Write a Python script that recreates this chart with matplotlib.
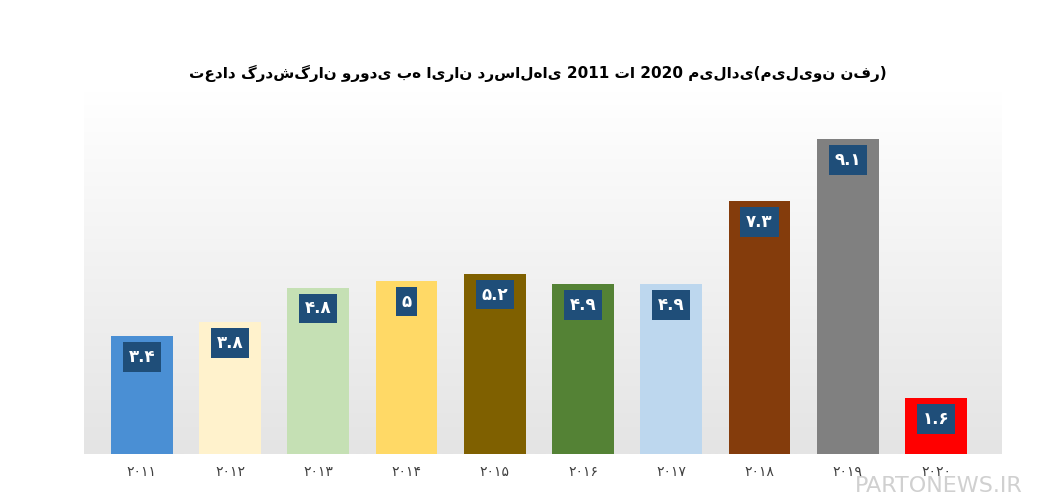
import numpy as np
import matplotlib.pyplot as plt
from matplotlib.colors import LinearSegmentedColormap

years = ["۲۰۱۱", "۲۰۱۲", "۲۰۱۳", "۲۰۱۴", "۲۰۱۵", "۲۰۱۶", "۲۰۱۷", "۲۰۱۸", "۲۰۱۹", "۲۰۲۰"]
values = [3.4, 3.8, 4.8, 5.0, 5.2, 4.9, 4.9, 7.3, 9.1, 1.6]
value_labels = ["۳.۴", "۳.۸", "۴.۸", "۵", "۵.۲", "۴.۹", "۴.۹", "۷.۳", "۹.۱", "۱.۶"]
colors = ["#4a8fd4", "#fff2cc", "#c5e0b4", "#ffd966", "#7f6000",
          "#548235", "#bdd7ee", "#843c0c", "#808080", "#ff0000"]
title = "تعداد گردشگران ورودی به ایران درسال‌های 2011 تا 2020 میلادی(میلیون نفر)"

plt.rcParams['font.family'] = ['DejaVu Sans']
fig = plt.figure(figsize=(10.55, 5.04), dpi=100)
ax = fig.add_axes([0.08, 0.1, 0.87, 0.72])

# light gray gradient background
grad = np.linspace(1, 0, 256).reshape(-1, 1)
ax.imshow(grad, extent=[-0.65, 9.75, 0, 10.5], aspect='auto',
          cmap=LinearSegmentedColormap.from_list("g", ["#e4e4e4", "#ffffff"]),
          zorder=0, vmin=0, vmax=1)

x = np.arange(len(years))
ax.bar(x, values, width=0.7, color=colors, zorder=2)
for xi, v, lab in zip(x, values, value_labels):
    ax.text(xi, v - 0.6, lab, ha='center', va='center', color='white',
            fontsize=12, fontweight='bold', zorder=3,
            bbox=dict(boxstyle='square,pad=0.35', fc='#1f4e79', ec='none'))

ax.set_xlim(-0.65, 9.75)
ax.set_ylim(0, 10.5)
ax.set_xticks(x)
ax.set_xticklabels(years, fontsize=10, color='#404040')
ax.tick_params(length=0, pad=8)
ax.set_yticks([])
for s in ax.spines.values():
    s.set_visible(False)

fig.text(0.51, 0.855, title, ha='center', va='center',
         fontsize=11, fontweight='bold')
fig.text(0.89, 0.035, "PARTONEWS.IR", ha='center', va='center',
         fontsize=16, color='#d0d0d0', zorder=5)

fig.savefig("out.png", dpi=100)
